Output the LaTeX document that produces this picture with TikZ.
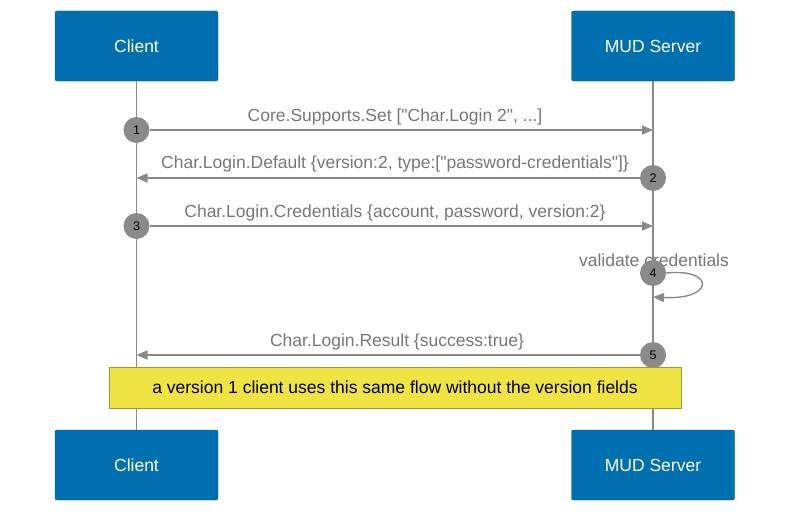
\documentclass[tikz,border=0pt]{standalone}
\usepackage{fontspec}
\setmainfont{Liberation Sans}[Ligatures=TeXOff]
\usetikzlibrary{arrows.meta}
\definecolor{boxblue}{HTML}{0070B0}
\definecolor{boxedge}{HTML}{0A4F7E}
\definecolor{lgray}{HTML}{8A8A8A}
\definecolor{tgray}{HTML}{777777}
\definecolor{noteyellow}{HTML}{F0E442}
\definecolor{noteedge}{HTML}{A09A30}
\begin{document}
\begin{tikzpicture}[x=1pt,y=-1pt,
  actor/.style={draw=boxedge, fill=boxblue, rounded corners=2pt, minimum width=163pt, minimum height=70pt, text=white, font=\fontsize{17.5}{20}\selectfont, inner sep=0pt},
  life/.style={draw=lgray, line width=1.6pt},
  msg/.style={draw=lgray, line width=1.4pt, -{Triangle[length=11pt,width=9pt]}},
  num/.style={circle, fill=lgray, minimum size=26pt, inner sep=0pt, font=\fontsize{12.5}{14}\selectfont, text=black},
  lbl/.style={text=tgray, font=\fontsize{17.5}{20}\selectfont, inner sep=0pt},
  note/.style={draw=noteedge, fill=noteyellow, minimum width=572pt, minimum height=41pt, font=\fontsize{17.5}{20}\selectfont, inner sep=0pt}]
\useasboundingbox (0,0) rectangle (800,519);
\node[actor] (ct) at (136.5,46) {Client};
\node[actor] (st) at (653,46) {MUD Server};
\node[actor] (cb) at (136.5,465) {Client};
\node[actor] (sb) at (653,465) {MUD Server};
\draw[life] (ct.south) -- (cb.north);
\draw[life] (st.south) -- (sb.north);
% message 1
\node[num] (n1) at (136.5,130) {1};
\coordinate (e1) at (653,130);
\draw[msg] (n1.east) -- (e1);
\node[lbl] (l1) at (395,116.5) {Core.Supports.Set ["Char.Login 2", ...]};
% message 2
\node[num] (n2) at (653,178) {2};
\coordinate (e2) at (136.5,178);
\draw[msg] (n2.west) -- (e2);
\node[lbl] (l2) at (395,163.5) {Char.Login.Default \{version:2, type:["password-credentials"]\}};
% message 3
\node[num] (n3) at (136.5,226) {3};
\coordinate (e3) at (653,226);
\draw[msg] (n3.east) -- (e3);
\node[lbl] (l3) at (395,212.5) {Char.Login.Credentials \{account, password, version:2\}};
% message 4
\node[lbl] (l4) at (654,260.5) {validate credentials};
\node[num] (n4) at (653,273) {4};
\coordinate (e4) at (653,297);
\draw[msg] (n4.east) .. controls (715,268) and (715,300) .. (e4);
% message 5
\node[num] (n5) at (653,355) {5};
\coordinate (e5) at (136.5,355);
\draw[msg] (n5.west) -- (e5);
\node[lbl] (l5) at (397,341.5) {Char.Login.Result \{success:true\}};
% note
\node[note] (nt) at (395,387.5) {a version 1 client uses this same flow without the version fields};
\end{tikzpicture}
\end{document}
